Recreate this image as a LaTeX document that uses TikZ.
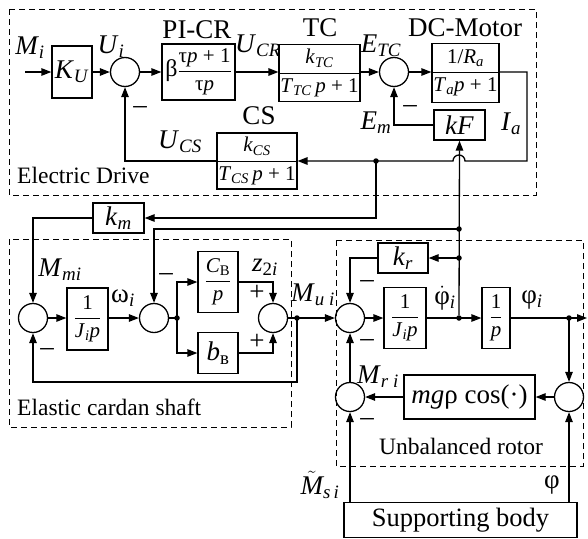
\documentclass[tikz,border=0pt]{standalone}
\usepackage{fontspec}
\setmainfont{Liberation Serif}
\usetikzlibrary{arrows.meta}
\newcommand\szA{\fontsize{27}{30}\selectfont}
\newcommand\szB{\fontsize{23.5}{26}\selectfont}
\newcommand\szC{\fontsize{21}{24}\selectfont}
\newcommand\vi[1]{\textit{#1}}
\newcommand\sbs[1]{\textsubscript{\textit{#1}}}
\newcommand\fra[2]{$\displaystyle\frac{\mbox{#1}}{\mbox{#2}}$}
\begin{document}
\begin{tikzpicture}[x=1pt,y=-1pt,
  box/.style={draw, line width=1.3pt, inner sep=0pt, font=\szA},
  fbox/.style={draw, line width=1.3pt, inner sep=0pt, font=\szC},
  sumc/.style={circle, draw, line width=1.3pt, minimum size=29pt, inner sep=0pt},
  dotn/.style={circle, fill, minimum size=5.5pt, inner sep=0pt},
  sig/.style={line width=1.3pt, -{Triangle[length=10pt,width=7.5pt]}},
  ln/.style={line width=1.3pt},
  region/.style={draw, dash pattern=on 6pt off 4pt, line width=0.9pt},
  lab/.style={font=\szA, inner sep=0pt},
  rlab/.style={font=\szB, inner sep=0pt, anchor=west}]
\useasboundingbox (0,0) rectangle (588,538);

% regions
\draw[region] (9,9) rectangle (536,195);
\draw[region] (9,239) rectangle (291,427);
\draw[region] (336,240) rectangle (583,466);

% blocks row 1
\node[box, minimum width=40pt, minimum height=52pt] (KU) at (72,72) {\vi{K}\sbs{U}};
\node[sumc] (c1) at (125,72) {};
\node[fbox, minimum width=73pt, minimum height=56pt] (PI) at (198.5,72) {{\fontsize{24}{26}\selectfont β}\fra{τ\vi{p} + 1}{τ\vi{p}}};
\node[fbox, minimum width=73pt, minimum height=57pt] (TC) at (319.5,73) {\fra{\vi{k}\sbs{TC}}{\vi{T}\sbs{TC}\,\vi{p} + 1}};
\node[sumc] (c2) at (394,72) {};
\node[fbox, minimum width=67pt, minimum height=59pt] (DC) at (465.5,73) {\fra{1/\vi{R}\sbs{a}}{\vi{T}\sbs{a}\vi{p} + 1}};
\node[box, minimum width=51pt, minimum height=30pt] (kF) at (459.5,125) {\vi{kF}};
\node[fbox, minimum width=74pt, minimum height=56pt] (CS) at (257,161) {\fra{\vi{k}\sbs{CS}}{\vi{T}\sbs{CS}\,\vi{p} + 1}};

% row 2
\node[box, minimum width=51pt, minimum height=30pt] (km) at (118.5,218) {\vi{k}\sbs{m}};
\node[sumc] (c3) at (33,318) {};
\node[fbox, minimum width=41pt, minimum height=62pt] (J1) at (87.5,319) {\fra{1}{\vi{J}\sbs{i}\vi{p}}};
\node[sumc] (c4) at (154,318) {};
\node[dotn] (d1) at (177,318) {};
\node[fbox, minimum width=40pt, minimum height=61pt] (CB) at (218,282) {\fra{\vi{C}\textsubscript{B}}{\vi{p}}};
\node[box, minimum width=40pt, minimum height=41pt] (bB) at (218,353) {\vi{b}\textsubscript{в}};
\node[sumc] (c5) at (273,318) {};
\node[dotn] (d2) at (297,318) {};
\node[sumc] (c6) at (350,318) {};
\node[box, minimum width=50pt, minimum height=30pt] (kr) at (403,258) {\vi{k}\sbs{r}};
\node[fbox, minimum width=42pt, minimum height=61pt] (J2) at (405,318) {\fra{1}{\vi{J}\sbs{i}\vi{p}}};
\node[dotn] (d3) at (459,318) {};
\node[fbox, minimum width=28pt, minimum height=61pt] (P) at (496,318) {\fra{1}{\vi{p}}};
\node[dotn] (d4) at (569,318) {};
\coordinate (outR) at (587,318);

% row 3
\node[sumc] (c7) at (569,397) {};
\node[box, minimum width=131pt, minimum height=44pt] (mg) at (469.5,397) {\vi{mg}ρ cos(·)};
\node[sumc] (c8) at (350,397) {};
\node[draw, line width=1.3pt, inner sep=0pt, font=\fontsize{26.5}{29}\selectfont, minimum width=233pt, minimum height=35pt] (SB) at (460.5,520) {Supporting body};

% junctions
\node[dotn] (j1) at (376,161) {};
\node[dotn] (j2) at (459,229) {};
\node[dotn] (j3) at (459,258) {};
\coordinate (ia) at (527,161);
\coordinate (bumpR) at (465,161);
\coordinate (Min) at (25,72);

% connectors row 1
\draw[sig] (Min) -- (KU.west);
\draw[sig] (KU.east) -- (c1.west);
\draw[sig] (c1.east) -- (PI.west);
\draw[sig] (PI.east) -- (TC.west |- PI.east);
\draw[sig] (TC.east |- c2) -- (c2.west);
\draw[sig] (c2.east) -- (DC.west |- c2);
\draw[sig] (DC.east |- c2) -| (ia) -- (bumpR) arc[start angle=0, end angle=-180, radius=6] -- (CS.east);
\draw[sig] (kF.west) -| (c2.south);
\draw[sig] (CS.west) -| (c1.south);
\draw[sig] (d3) -- (kF.south);

% row 2 connectors
\draw[sig] (j1.center) |- (km.east);
\draw[sig] (km.west) -| (c3.north);
\draw[sig] (j2.center) -| (c4.north);
\draw[sig] (c3.east) -- (J1.west |- c3);
\draw[sig] (J1.east |- c4) -- (c4.west);
\draw[ln] (c4.east) -- (d1.center);
\draw[sig] (d1.center) |- (CB.west);
\draw[sig] (d1.center) |- (bB.west);
\draw[sig] (CB.east) -| (c5.north);
\draw[sig] (bB.east) -| (c5.south);
\draw[ln] (c5.east) -- (d2.center);
\draw[sig] (d2.center) -- (c6.west);
\draw[sig] (d2.center) -- ++(0,64) -| (c3.south);
\draw[sig] (c6.east) -- (J2.west);
\draw[sig] (J2.east) -- (P.west);
\draw[sig] (P.east) -- (outR);
\draw[sig] (j3.center) -- (kr.east);
\draw[sig] (kr.west) -| (c6.north);

% row 3 connectors
\draw[sig] (d4.center) -- (c7.north);
\draw[sig] (c7.west) -- (mg.east);
\draw[sig] (mg.west) -- (c8.east);
\draw[sig] (c8.north) -- (c6.south);
\draw[sig] (c8 |- SB.north) -- (c8.south);
\draw[sig] (c7 |- SB.north) -- (c7.south);

% labels
\node[lab] (lMi) at (30,48) {\vi{M}\sbs{i}};
\node[lab] (lUi) at (111,47) {\vi{U}\sbs{i}};
\node[lab] (lPI) at (197,30) {PI-CR};
\node[lab] (lUCR) at (258,46) {\vi{U}\sbs{CR}};
\node[lab] (lTC) at (320,28) {TC};
\node[lab] (lETC) at (381,46) {\vi{E}\sbs{TC}};
\node[lab] (lDC) at (465,28) {DC-Motor};
\node[lab] (lEm) at (376,123) {\vi{E}\sbs{m}};
\node[lab] (lIa) at (511,124) {\vi{I}\sbs{a}};
\node[lab] (lCS) at (259,116) {CS};
\node[lab] (lUCS) at (180,142) {\vi{U}\sbs{CS}};
\node[rlab] (lED) at (17,175) {Electric Drive};
\node[lab] (m1) at (140,110) {–};
\node[lab] (m2) at (410,109) {–};
\node[lab] (lMmi) at (60,270) {\vi{M}\sbs{mi}};
\node[lab] (lwi) at (123,298) {ω\sbs{i}};
\node[lab] (m4) at (166,277) {–};
\node[lab] (lz) at (265,267) {\vi{z}\textsubscript{2\textit{i}}};
\node[lab] (p1) at (257,293) {+};
\node[lab] (p2) at (257,342) {+};
\node[lab] (m3) at (47,352) {–};
\node[rlab] (lES) at (17,407) {Elastic cardan shaft};
\node[lab] (lMui) at (313,295) {\vi{M}\textsubscript{\textit{u i}}};
\node[lab] (m6) at (367,284) {–};
\node[lab] (lphid) at (445,298) {$\dot{\mbox{φ}}$\sbs{i}};
\node[lab] (lphi) at (532,300) {φ\sbs{i}};
\node[lab] (m7) at (367,343) {–};
\node[lab] (lMri) at (378,377) {\vi{M}\textsubscript{\textit{r i}}};
\node[lab] (m8) at (367,422) {–};
\node[rlab, anchor=center] (lUR) at (461,446) {Unbalanced rotor};
\node[lab] (lMsi) at (320,485) {$\tilde{\mbox{\itshape M}}$\textsubscript{\textit{s\,i}}};
\node[lab] (lphis) at (552,485) {φ};
\end{tikzpicture}
\end{document}
